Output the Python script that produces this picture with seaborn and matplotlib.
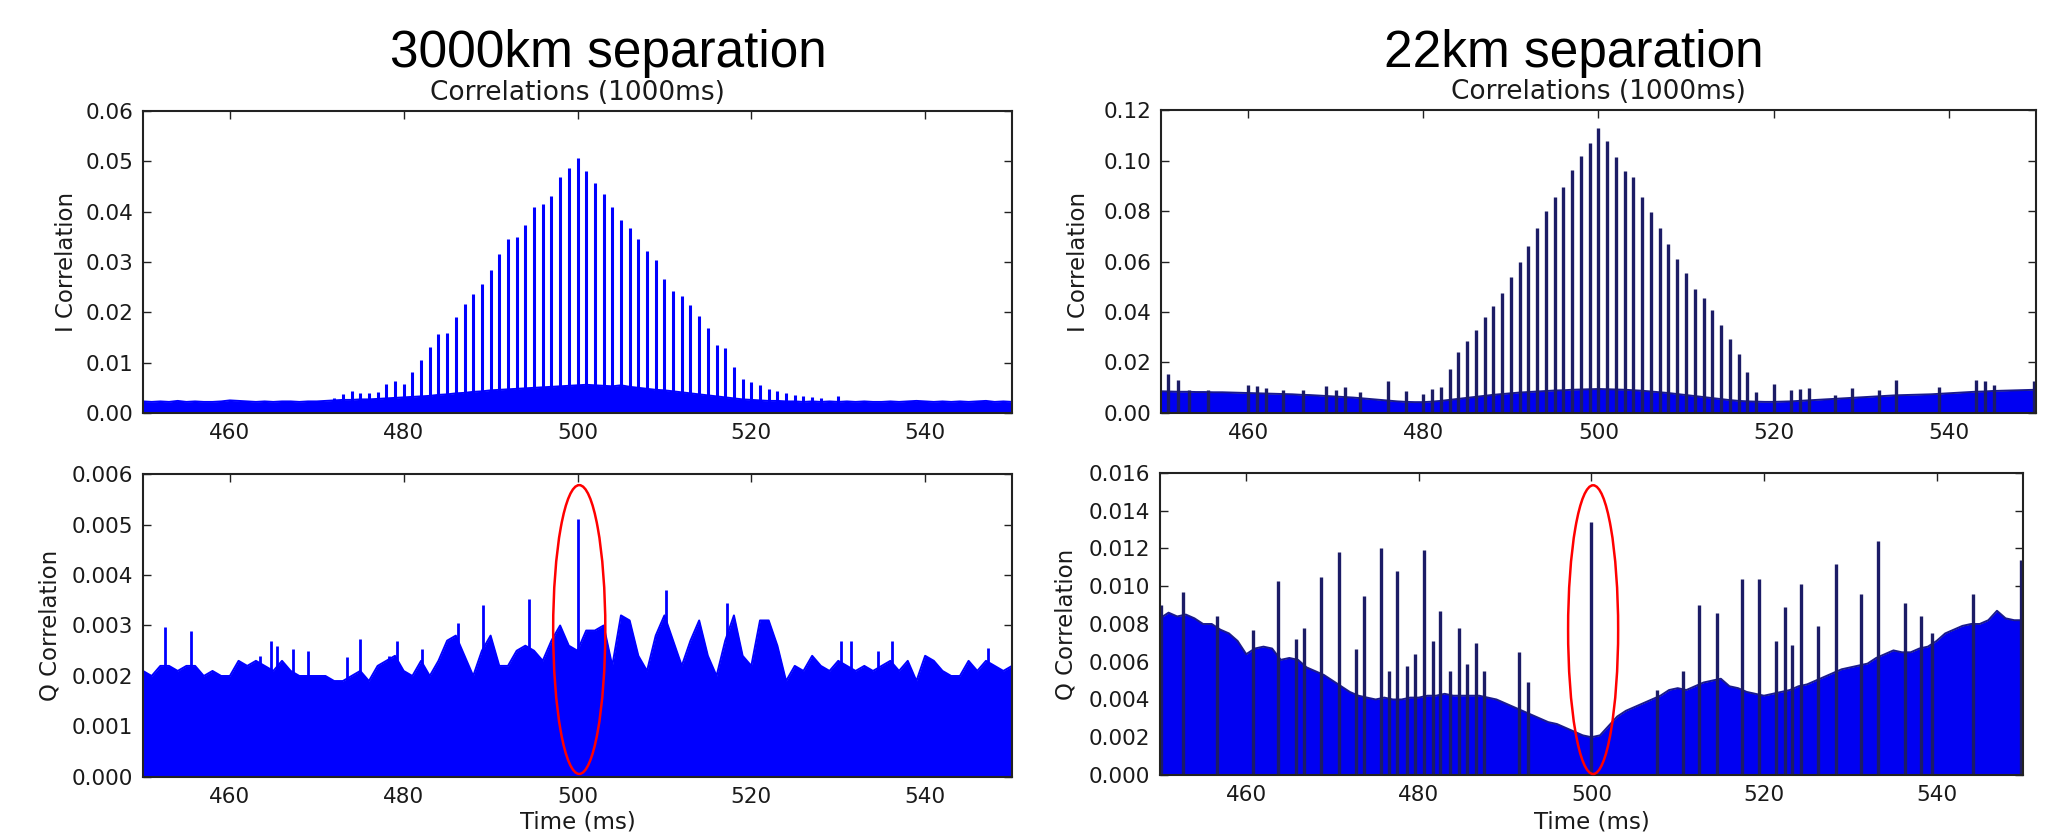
import matplotlib
matplotlib.use("Agg")
import matplotlib.pyplot as plt
import seaborn as sns
from matplotlib.patches import Ellipse
from matplotlib.ticker import FormatStrFormatter

# eje de tiempo (ms), un valor de piso por ms
tiempo = list(range(450, 551))

# ---------- 3000 km, correlacion I ----------
piso_i_3000 = [
    0.0023, 0.0022, 0.0023, 0.0022, 0.0024, 0.0022, 0.0023, 0.0022, 0.0022, 0.0023,
    0.0025, 0.0024, 0.0023, 0.0022, 0.0023, 0.0022, 0.0023, 0.0023, 0.0022, 0.0023,
    0.0023, 0.0024, 0.0025, 0.0026, 0.0026, 0.0027, 0.0027, 0.0028, 0.0029, 0.0030,
    0.0031, 0.0032, 0.0033, 0.0034, 0.0036, 0.0037, 0.0039, 0.0040, 0.0042, 0.0043,
    0.0045, 0.0046, 0.0047, 0.0048, 0.0049, 0.0050, 0.0051, 0.0052, 0.0053, 0.0054,
    0.0055, 0.0056, 0.0055, 0.0054, 0.0053, 0.0055, 0.0052, 0.0050, 0.0048, 0.0046,
    0.0045, 0.0043, 0.0041, 0.0039, 0.0037, 0.0035, 0.0033, 0.0031, 0.0029, 0.0027,
    0.0026, 0.0025, 0.0024, 0.0024, 0.0023, 0.0023, 0.0022, 0.0023, 0.0022, 0.0023,
    0.0022, 0.0023, 0.0022, 0.0023, 0.0022, 0.0022, 0.0023, 0.0022, 0.0023, 0.0024,
    0.0023, 0.0022, 0.0023, 0.0022, 0.0023, 0.0022, 0.0023, 0.0024, 0.0022, 0.0023,
    0.0022,
]
picos_i_3000_t = [472, 473, 474, 475, 476, 477, 478, 479, 480, 481, 482, 483, 484, 485,
                  486, 487, 488, 489, 490, 491, 492, 493, 494, 495, 496, 497, 498, 499,
                  500, 501, 502, 503, 504, 505, 506, 507, 508, 509, 510, 511, 512, 513,
                  514, 515, 516, 517, 518, 519, 520, 521, 522, 523, 524, 525, 526, 527,
                  528, 530]
picos_i_3000 = [0.0030, 0.0038, 0.0043, 0.0040, 0.0040, 0.0041, 0.0058, 0.0064, 0.0057,
                0.0081, 0.0106, 0.0132, 0.0157, 0.0159, 0.0190, 0.0216, 0.0237, 0.0256,
                0.0285, 0.0315, 0.0346, 0.0349, 0.0373, 0.0409, 0.0416, 0.0431, 0.0468,
                0.0486, 0.0506, 0.0480, 0.0457, 0.0436, 0.0410, 0.0384, 0.0367, 0.0346,
                0.0322, 0.0303, 0.0267, 0.0243, 0.0232, 0.0215, 0.0193, 0.0168, 0.0135,
                0.0130, 0.0091, 0.0068, 0.0062, 0.0055, 0.0048, 0.0043, 0.0039, 0.0036,
                0.0033, 0.0031, 0.0029, 0.0033]

# ---------- 3000 km, correlacion Q ----------
piso_q_3000 = [
    0.0021, 0.0020, 0.0022, 0.0022, 0.0021, 0.0022, 0.0022, 0.0020, 0.0021, 0.0020,
    0.0020, 0.0023, 0.0022, 0.0023, 0.0022, 0.0021, 0.0023, 0.0021, 0.0020, 0.0020,
    0.0020, 0.0020, 0.0019, 0.0019, 0.0020, 0.0021, 0.0019, 0.0022, 0.0023, 0.0024,
    0.0021, 0.0020, 0.0023, 0.0020, 0.0023, 0.0027, 0.0028, 0.0024, 0.0020, 0.0025,
    0.0028, 0.0022, 0.0022, 0.0025, 0.0026, 0.0025, 0.0023, 0.0027, 0.0030, 0.0026,
    0.0025, 0.0029, 0.0029, 0.0030, 0.0022, 0.0032, 0.0031, 0.0024, 0.0021, 0.0028,
    0.0032, 0.0027, 0.0022, 0.0027, 0.0031, 0.0024, 0.0020, 0.0027, 0.0032, 0.0024,
    0.0022, 0.0031, 0.0031, 0.0026, 0.0019, 0.0022, 0.0021, 0.0024, 0.0022, 0.0021,
    0.0023, 0.0022, 0.0021, 0.0022, 0.0021, 0.0022, 0.0023, 0.0021, 0.0023, 0.0019,
    0.0024, 0.0023, 0.0021, 0.0020, 0.0020, 0.0023, 0.0021, 0.0023, 0.0022, 0.0021,
    0.0022,
]
picos_q_3000_t = [452.5, 455.5, 463.5, 464.7, 465.4, 467.3, 469.0, 473.5, 475.0, 478.3,
                  479.2, 482.1, 486.2, 489.1, 494.4, 500.0, 510.2, 517.2, 530.3, 531.5,
                  534.6, 536.2, 547.2]
picos_q_3000 = [0.00297, 0.00289, 0.0024, 0.0027, 0.0026, 0.00254, 0.0025, 0.00238,
                0.00273, 0.0024, 0.0027, 0.00254, 0.00305, 0.0034, 0.00352, 0.0051,
                0.0037, 0.00345, 0.0027, 0.0027, 0.0025, 0.0027, 0.00256]

# ---------- 22 km, correlacion I ----------
piso_i_22 = [
    0.0086, 0.0085, 0.0084, 0.0084, 0.0083, 0.0083, 0.0082, 0.0082, 0.0081, 0.0080,
    0.0079, 0.0078, 0.0077, 0.0076, 0.0075, 0.0074, 0.0072, 0.0071, 0.0069, 0.0067,
    0.0065, 0.0063, 0.0061, 0.0058, 0.0055, 0.0052, 0.0049, 0.0046, 0.0044, 0.0043,
    0.0043, 0.0045, 0.0048, 0.0052, 0.0056, 0.0060, 0.0064, 0.0068, 0.0072, 0.0075,
    0.0078, 0.0081, 0.0083, 0.0085, 0.0087, 0.0089, 0.0090, 0.0092, 0.0093, 0.0094,
    0.0095, 0.0094, 0.0093, 0.0092, 0.0090, 0.0088, 0.0085, 0.0082, 0.0079, 0.0075,
    0.0071, 0.0067, 0.0063, 0.0059, 0.0055, 0.0051, 0.0048, 0.0046, 0.0045, 0.0044,
    0.0044, 0.0045, 0.0046, 0.0048, 0.0050, 0.0052, 0.0054, 0.0056, 0.0058, 0.0060,
    0.0062, 0.0064, 0.0066, 0.0068, 0.0070, 0.0071, 0.0072, 0.0073, 0.0074, 0.0076,
    0.0078, 0.0080, 0.0082, 0.0084, 0.0085, 0.0087, 0.0088, 0.0089, 0.0090, 0.0091,
    0.0092,
]
picos_i_22_t = [450.8, 451.9, 453.2, 455.4, 459.9, 461.0, 462.0, 463.9, 466.2, 468.9,
                470.0, 471.0, 472.8, 476.0, 478.0,
                480, 481, 482, 483, 484, 485, 486, 487, 488, 489, 490, 491, 492, 493,
                494, 495, 496, 497, 498, 499, 500, 501, 502, 503, 504, 505, 506, 507,
                508, 509, 510, 511, 512, 513, 514, 515, 516, 517, 518,
                520.0, 522.0, 523.0, 524.1, 527.0, 529.0, 532.0, 534.0, 538.9, 543.1,
                544.2, 545.2, 549.8]
picos_i_22 = [0.0156, 0.0132, 0.0092, 0.0090, 0.0112, 0.0108, 0.0099, 0.0092, 0.0090,
              0.0105, 0.0092, 0.0102, 0.0085, 0.0125, 0.0086,
              0.0075, 0.0095, 0.0102, 0.0174, 0.0240, 0.0284, 0.0330, 0.0380, 0.0425,
              0.0475, 0.0538, 0.0599, 0.0662, 0.0732, 0.0802, 0.0855, 0.0894, 0.0963,
              0.1018, 0.1071, 0.1130, 0.1079, 0.1015, 0.0960, 0.0934, 0.0855, 0.0798,
              0.0732, 0.0670, 0.0609, 0.0554, 0.0490, 0.0454, 0.0406, 0.0350, 0.0295,
              0.0235, 0.0161, 0.0082,
              0.0116, 0.0092, 0.0095, 0.0099, 0.0073, 0.0099, 0.0092, 0.0132, 0.0103,
              0.0132, 0.0125, 0.0112, 0.0125]

# ---------- 22 km, correlacion Q ----------
piso_q_22 = [
    0.0083, 0.0086, 0.0084, 0.0085, 0.0083, 0.0080, 0.0080, 0.0077, 0.0075, 0.0071,
    0.0064, 0.0067, 0.0068, 0.0067, 0.0061, 0.0062, 0.0061, 0.0057, 0.0055, 0.0053,
    0.0050, 0.0047, 0.0044, 0.0042, 0.0041, 0.0040, 0.0041, 0.0040, 0.0040, 0.0041,
    0.0041, 0.0042, 0.0042, 0.0043, 0.0042, 0.0042, 0.0042, 0.0042, 0.0041, 0.0040,
    0.0038, 0.0036, 0.0034, 0.0032, 0.0030, 0.0028, 0.0027, 0.0025, 0.0023, 0.0021,
    0.0020, 0.0021, 0.0026, 0.0031, 0.0034, 0.0036, 0.0038, 0.0040, 0.0042, 0.0045,
    0.0046, 0.0045, 0.0047, 0.0049, 0.0050, 0.0051, 0.0047, 0.0046, 0.0044, 0.0043,
    0.0042, 0.0043, 0.0044, 0.0045, 0.0047, 0.0048, 0.0050, 0.0052, 0.0054, 0.0056,
    0.0057, 0.0058, 0.0059, 0.0062, 0.0064, 0.0066, 0.0065, 0.0065, 0.0067, 0.0068,
    0.0071, 0.0075, 0.0077, 0.0079, 0.0080, 0.0080, 0.0082, 0.0087, 0.0083, 0.0082,
    0.0082,
]
picos_q_22_t = [450.1, 452.7, 456.6, 460.8, 463.7, 465.8, 466.7, 468.7, 470.8, 472.7,
                473.7, 475.6, 476.6, 477.5, 478.6, 479.5, 480.6, 481.6, 482.5, 483.6,
                484.6, 485.6, 486.6, 487.6, 491.6, 492.7, 500.0, 507.6, 510.6, 512.5,
                514.5, 517.4, 519.4, 521.4, 522.4, 523.3, 524.3, 526.3, 528.3, 531.3,
                533.2, 536.3, 538.2, 539.5, 544.2, 549.8]
picos_q_22 = [0.0090, 0.0097, 0.0084, 0.0077, 0.0103, 0.0072, 0.0078, 0.0105, 0.0118,
              0.0067, 0.0095, 0.0120, 0.0055, 0.0108, 0.0058, 0.0064, 0.0119, 0.0071,
              0.0087, 0.0055, 0.0078, 0.0059, 0.0070, 0.0055, 0.0065, 0.0049, 0.0134,
              0.0045, 0.0055, 0.0090, 0.0086, 0.0104, 0.0104, 0.0071, 0.0089, 0.0069,
              0.0101, 0.0079, 0.0112, 0.0096, 0.0124, 0.0091, 0.0084, 0.0075, 0.0096,
              0.0114]

sns.set_style("ticks")
plt.rcParams["font.family"] = "DejaVu Sans"

fig = plt.figure(figsize=(20.57, 8.36), dpi=100)

ax_i3 = fig.add_axes([0.0695, 0.506, 0.4225, 0.3612])
ax_q3 = fig.add_axes([0.0695, 0.0706, 0.4225, 0.3624])
ax_i22 = fig.add_axes([0.5644, 0.506, 0.4254, 0.3624])
ax_q22 = fig.add_axes([0.5639, 0.073, 0.4195, 0.3612])


def dibujar(ax, piso, pt, ph, relleno, pico, borde, grosor):
    ax.fill_between(tiempo, 0, piso, color=relleno, lw=0)
    sns.lineplot(x=tiempo, y=piso, ax=ax, color=borde, lw=1.4)
    ax.vlines(pt, 0, ph, color=pico, lw=grosor)


dibujar(ax_i3, piso_i_3000, picos_i_3000_t, picos_i_3000, "#0000ff", "#0000ff", "#0000ff", 2.2)
dibujar(ax_q3, piso_q_3000, picos_q_3000_t, picos_q_3000, "#0000ff", "#0000ff", "#0000ff", 2.0)
dibujar(ax_i22, piso_i_22, picos_i_22_t, picos_i_22, "#0000f2", "#1c1c66", "#1a1a8c", 2.4)
dibujar(ax_q22, piso_q_22, picos_q_22_t, picos_q_22, "#0000f2", "#1c1c66", "#1a1a8c", 2.4)

config = [
    (ax_i3, [0, 0.01, 0.02, 0.03, 0.04, 0.05, 0.06], "%.2f", "I Correlation", -0.075),
    (ax_q3, [0, 0.001, 0.002, 0.003, 0.004, 0.005, 0.006], "%.3f", "Q Correlation", -0.094),
    (ax_i22, [0, 0.02, 0.04, 0.06, 0.08, 0.10, 0.12], "%.2f", "I Correlation", -0.081),
    (ax_q22, [0, 0.002, 0.004, 0.006, 0.008, 0.010, 0.012, 0.014, 0.016], "%.3f",
     "Q Correlation", -0.096),
]
for ax, yt, fmt, etiqueta, xl in config:
    ax.set_xlim(450, 550)
    ax.set_ylim(yt[0], yt[-1])
    ax.set_xticks([460, 480, 500, 520, 540])
    ax.set_yticks(yt)
    ax.yaxis.set_major_formatter(FormatStrFormatter(fmt))
    ax.tick_params(direction="in", top=True, right=True, length=6, width=1,
                   labelsize=15.5, pad=7, labelcolor="#1a1a1a", color="#222222")
    for s in ax.spines.values():
        s.set_color("#222222")
        s.set_linewidth(1.5)
    ax.set_ylabel(etiqueta, fontsize=16.5, color="#1a1a1a")
    ax.yaxis.set_label_coords(xl, 0.5)
    ax.set_xlabel("")

ax_i3.set_title("Correlations (1000ms)", fontsize=19, pad=8, color="#1a1a1a")
ax_i22.set_title("Correlations (1000ms)", fontsize=19, pad=8, color="#1a1a1a")

ax_q3.set_xlabel("Time (ms)", fontsize=16.5, color="#1a1a1a", va="top")
ax_q3.xaxis.set_label_coords(0.5, -0.109)
ax_q22.set_xlabel("Time (ms)", fontsize=16.5, color="#1a1a1a", va="top")
ax_q22.xaxis.set_label_coords(0.5, -0.118)

# ovalos rojos alrededor del pico en 500 ms
ax_q3.add_patch(Ellipse((500.2, 0.00292), 6.0, 0.00572, fill=False, ec="red",
                        lw=1.8, clip_on=False, zorder=5))
ax_q22.add_patch(Ellipse((500.2, 0.0077), 5.8, 0.0153, fill=False, ec="red",
                         lw=1.8, clip_on=False, zorder=5))

fig.text(0.2956, 0.920, "3000km separation", fontsize=37, family="Liberation Sans",
         color="black", ha="center", va="baseline")
fig.text(0.765, 0.920, "22km separation", fontsize=37, family="Liberation Sans",
         color="black", ha="center", va="baseline")

fig.savefig("out.png", dpi=100)
